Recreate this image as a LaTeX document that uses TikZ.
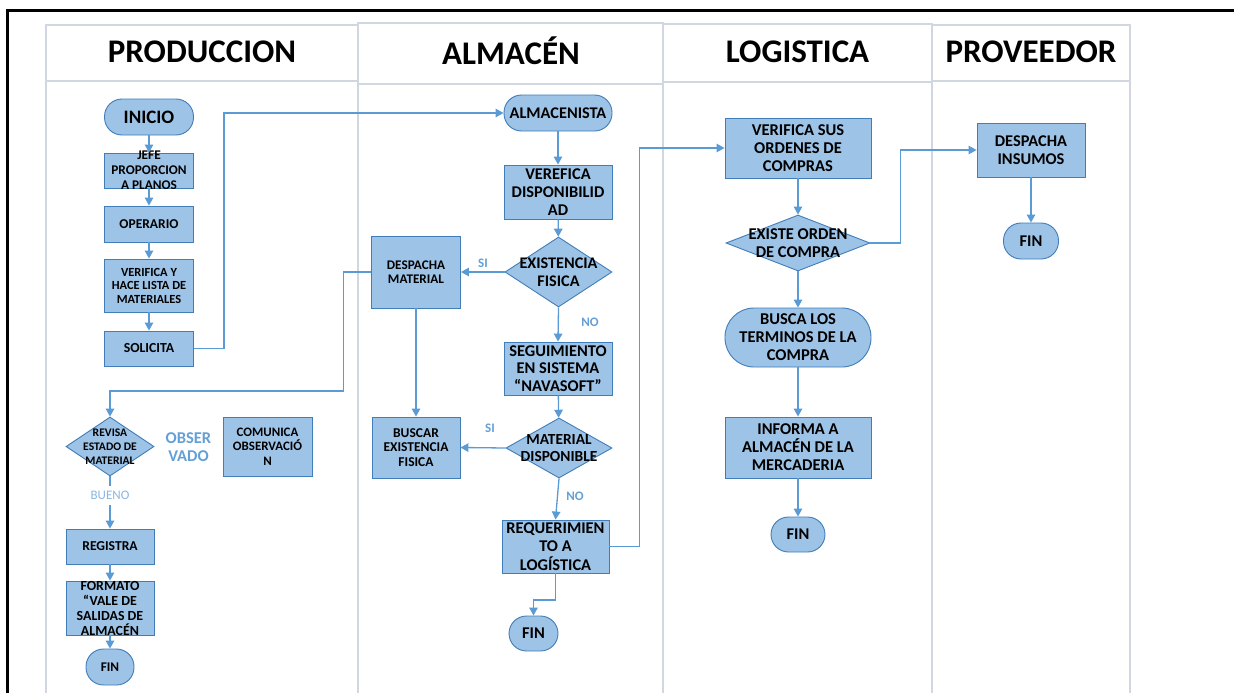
\documentclass[tikz,border=0pt]{standalone}
\usepackage{fontspec}
\setmainfont{Carlito}
\usetikzlibrary{arrows.meta,shapes.geometric}
\definecolor{nodefill}{RGB}{157,195,230}
\definecolor{nodeline}{RGB}{65,125,185}
\definecolor{flowc}{RGB}{91,155,213}
\definecolor{lanec}{RGB}{208,215,224}
\definecolor{tagc}{RGB}{100,160,215}
\definecolor{softtag}{RGB}{140,182,226}
\begin{document}
\begin{tikzpicture}[x=1pt,y=-1pt,
  lane/.style={draw=lanec, line width=1.3pt},
  hdr/.style={font=\fontsize{33}{36}\selectfont\bfseries, inner sep=0, anchor=base},
  shp/.style={draw=nodeline, fill=nodefill, line width=0.9pt, inner sep=0},
  box/.style={shp, rectangle},
  term/.style={shp, rectangle, rounded corners=#1},
  term/.default=17.5pt,
  dec/.style={shp, diamond},
  tx/.style={align=center, inner sep=0, text=black},
  fs/.style 2 args={font=\fontsize{#1}{#2}\selectfont\bfseries},
  tag/.style={inner sep=0, text=tagc, font=\fontsize{13}{15}\selectfont\bfseries},
  flow/.style={draw=flowc, line width=1.3pt, -{Triangle[length=8pt,width=8.5pt]}}
]
\useasboundingbox (0,0) rectangle (1234,693);
\fill[white] (0,0) rectangle (1234,693);

% outer frame
\draw[line width=2.4pt] (7.5,700) -- (7.5,10.5) -- (1240,10.5);

% swimlanes
\draw[lane] (46,25) rectangle (358,81);
\draw[lane] (46,81) rectangle (358,710);
\draw[lane] (358,23) rectangle (663,84);
\draw[lane] (358,84) rectangle (663,710);
\draw[lane] (663,24) rectangle (932,82);
\draw[lane] (663,82) rectangle (932,710);
\draw[lane] (932,25) rectangle (1130,81);
\draw[lane] (932,81) rectangle (1130,710);

\node[hdr] (h-prod) at (202,62.5) {PRODUCCION};
\node[hdr] (h-alm) at (511,64) {ALMACÉN};
\node[hdr] (h-log) at (797.5,62.5) {LOGISTICA};
\node[hdr] (h-prov) at (1031,63) {PROVEEDOR};

% ---- PRODUCCION ----
\node[term, minimum width=89pt, minimum height=36pt] (inicio) at (149,117) {};
\node[tx, fs={19}{22}] (inicio-t) at (inicio) {INICIO};
\node[box, minimum width=89pt, minimum height=35pt] (jefe) at (149,170.5) {};
\node[tx, fs={13.3}{15}] (jefe-t) at (jefe) {JEFE\\PROPORCION\\A PLANOS};
\node[box, minimum width=89pt, minimum height=36pt] (oper) at (149,224) {};
\node[tx, fs={13.5}{15}] (oper-t) at (oper) {OPERARIO};
\node[box, minimum width=89pt, minimum height=53pt] (verif) at (149,285.5) {};
\node[tx, fs={12.4}{13.5}] (verif-t) at (verif) {VERIFICA Y\\HACE LISTA DE\\MATERIALES};
\node[box, minimum width=89pt, minimum height=35pt] (solic) at (149,348.5) {};
\node[tx, fs={13.8}{15}] (solic-t) at (solic) {SOLICITA};

\node[dec, minimum width=88pt, minimum height=59pt] (revisa) at (110,446.5) {};
\node[tx, fs={11.6}{13.8}] (revisa-t) at (revisa) {REVISA\\ESTADO DE\\MATERIAL};
\node[tx, text=tagc, font=\fontsize{16.5}{18.5}\selectfont\bfseries] (obs) at (188.5,447) {OBSER\\VADO};
\node[box, minimum width=89pt, minimum height=59pt] (comun) at (267.5,446.5) {};
\node[tx, fs={12.9}{14.7}] (comun-t) at (comun) {COMUNICA\\OBSERVACIÓ\\N};
\node[box, minimum width=88pt, minimum height=35pt] (regis) at (110,546.5) {};
\node[tx, fs={13.6}{15}] (regis-t) at (regis) {REGISTRA};
\node[box, minimum width=88pt, minimum height=54pt] (forma) at (110,608) {};
\node[tx, fs={13.9}{15}] (forma-t) at (forma) {FORMATO\\“VALE DE\\SALIDAS DE\\ALMACÉN};
\node[term, minimum width=48pt, minimum height=36pt] (fin1) at (110,667) {};
\node[tx, fs={13.3}{15}] (fin1-t) at (fin1) {FIN};

% ---- ALMACEN ----
\node[term, minimum width=108pt, minimum height=36pt] (almac) at (558,113) {};
\node[tx, fs={16.3}{18}] (almac-t) at (almac) {ALMACENISTA};
\node[box, minimum width=108pt, minimum height=54pt] (veref) at (558,192) {};
\node[tx, fs={16.4}{18.2}] (veref-t) at (veref) {VEREFICA\\DISPONIBILID\\AD};
\node[dec, minimum width=107pt, minimum height=70pt] (exist) at (558.5,272) {};
\node[tx, fs={16.2}{17.7}] (exist-t) at (exist) {EXISTENCIA\\FISICA};
\node[box, minimum width=89pt, minimum height=72pt] (desp) at (416,272) {};
\node[tx, fs={13.2}{14.2}] (desp-t) at (desp) {DESPACHA\\MATERIAL};
\node[box, minimum width=108pt, minimum height=53pt] (segui) at (558,368.5) {};
\node[tx, fs={16.4}{17.5}] (segui-t) at (segui) {SEGUIMIENTO\\EN SISTEMA\\“NAVASOFT”};
\node[dec, minimum width=106pt, minimum height=60pt] (matd) at (559,448) {};
\node[tx, fs={15.4}{16.7}] (matd-t) at (matd) {MATERIAL\\DISPONIBLE};
\node[box, minimum width=88pt, minimum height=61pt] (busc) at (416,447.5) {};
\node[tx, fs={13.5}{14.7}] (busc-t) at (busc) {BUSCAR\\EXISTENCIA\\FISICA};
\node[box, minimum width=107pt, minimum height=53pt] (req) at (555.5,546.5) {};
\node[tx, fs={16.4}{18.3}] (req-t) at (req) {REQUERIMIEN\\TO A\\LOGÍSTICA};
\node[term, minimum width=49pt, minimum height=35pt] (fin2) at (533.5,633.5) {};
\node[tx, fs={16.4}{18}] (fin2-t) at (fin2) {FIN};

\node[tag] (si1) at (483,263) {SI};
\node[tag] (no1) at (590,322) {NO};
\node[tag] (si2) at (490,428) {SI};
\node[tag] (no2) at (575,496) {NO};

% ---- LOGISTICA ----
\node[box, minimum width=146pt, minimum height=60pt] (vsus) at (798,148) {};
\node[tx, fs={16.5}{18.3}] (vsus-t) at (vsus) {VERIFICA SUS\\ORDENES DE\\COMPRAS};
\node[dec, minimum width=144pt, minimum height=56pt] (exor) at (798,243) {};
\node[tx, fs={16.5}{18}] (exor-t) at (exor) {EXISTE ORDEN\\DE COMPRA};
\node[term=29pt, minimum width=146pt, minimum height=59pt] (busca) at (798,337.5) {};
\node[tx, fs={16.5}{18}] (busca-t) at (busca) {BUSCA LOS\\TERMINOS DE LA\\COMPRA};
\node[box, minimum width=146pt, minimum height=61pt] (infor) at (798,447.5) {};
\node[tx, fs={16.5}{18}] (infor-t) at (infor) {INFORMA A\\ALMACÉN DE LA\\MERCADERIA};
\node[term, minimum width=54pt, minimum height=35pt] (fin3) at (798,534.5) {};
\node[tx, fs={16.4}{18}] (fin3-t) at (fin3) {FIN};

% ---- PROVEEDOR ----
\node[box, minimum width=108pt, minimum height=54pt] (dins) at (1031,150) {};
\node[tx, fs={16.4}{17.7}] (dins-t) at (dins) {DESPACHA\\INSUMOS};
\node[term, minimum width=55pt, minimum height=36pt] (fin4) at (1031,241) {};
\node[tx, fs={16.4}{18}] (fin4-t) at (fin4) {FIN};

% ---- connectors ----
\draw[flow] (inicio) -- (jefe);
\draw[flow] (jefe) -- (oper);
\draw[flow] (oper) -- (verif);
\draw[flow] (verif) -- (solic);
\draw[flow] (solic.east) -- ++(30,0) |- (almac.west);

\draw[flow] (almac) -- (veref);
\draw[flow] (veref) -- (exist);
\draw[flow] (exist.west) -- (desp.east);
\draw[flow] (exist.south) -- (segui.north);
\draw[flow] (segui) -- (matd);
\draw[flow] (matd.west) -- (busc.east);
\draw[flow] (desp.south) -- (busc.north);
\draw[flow] (matd.south) -- (req.north);
\draw[flow] (req.south) -- ++(0,26.5) -| (fin2.north);
\draw[flow] (req.east) -- ++(30,0) |- (vsus.west);

\coordinate (dropA) at (343.5,391);
\draw[flow] (desp.west) -| (dropA) -| (revisa.north);
\draw[flow] (revisa.south) -- (regis.north);
\node[inner xsep=2pt, inner ysep=5pt, fill=white, text=softtag, font=\fontsize{13}{15}\selectfont] (bueno) at (110,495.5) {BUENO};
\draw[flow] (regis) -- (forma);
\draw[flow] (forma) -- (fin1);

\draw[flow] (vsus) -- (exor);
\draw[flow] (exor.east) -- ++(30,0) |- (dins.west);
\draw[flow] (exor.south) -- (busca.north);
\draw[flow] (busca) -- (infor);
\draw[flow] (infor) -- (fin3);
\draw[flow] (dins) -- (fin4);
\end{tikzpicture}
\end{document}
